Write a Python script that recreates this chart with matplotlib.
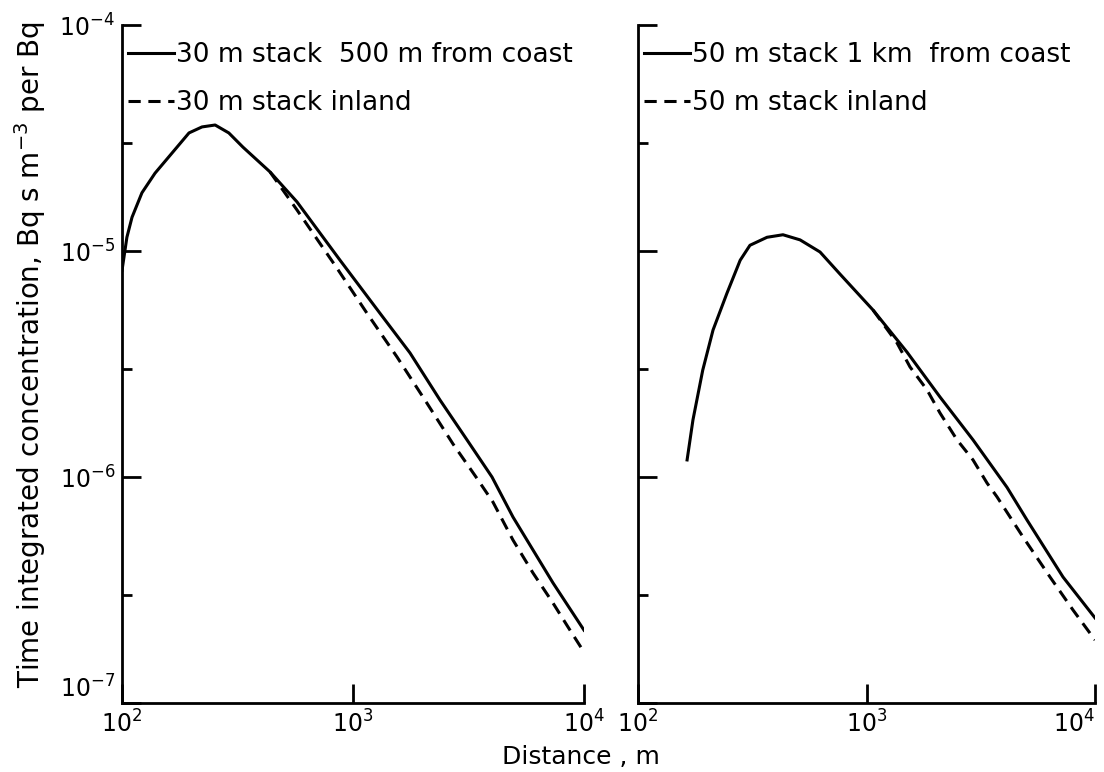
import matplotlib.pyplot as plt
from matplotlib.ticker import FixedLocator, FixedFormatter, NullLocator, NullFormatter

plt.rcParams['font.family'] = ['DejaVu Sans']
plt.rcParams['mathtext.default'] = 'regular'

# 30 m stack (left panel)
dist_30_coast = [100, 102, 105, 110.5, 122, 139, 165, 195, 222, 253, 290, 334, 437, 572,
                 879, 1309, 1765, 2381, 3115, 3997, 4927, 7340, 10000]
conc_30_coast = [8.2e-6, 9.4e-6, 1.15e-5, 1.41e-5, 1.81e-5, 2.21e-5, 2.72e-5, 3.33e-5,
                 3.54e-5, 3.61e-5, 3.33e-5, 2.88e-5, 2.24e-5, 1.65e-5, 9.1e-6, 5.3e-6,
                 3.54e-6, 2.19e-6, 1.46e-6, 1.0e-6, 6.65e-7, 3.4e-7, 2.1e-7]
dist_30_inland = [437, 572, 852, 1150, 1550, 2091, 2710, 3408, 4037, 4927, 6016, 7340, 8524, 10000]
conc_30_inland = [2.24e-5, 1.52e-5, 8.4e-6, 5.3e-6, 3.4e-6, 2.12e-6, 1.4e-6, 1.0e-6,
                  7.74e-7, 5.26e-7, 3.76e-7, 2.77e-7, 2.17e-7, 1.68e-7]

# 50 m stack (right panel)
dist_50_coast = [164, 174, 192, 213, 245, 280, 309, 367, 431, 512, 626, 766, 1068, 1504,
                 2097, 2925, 4120, 5041, 7244, 10000]
conc_50_coast = [1.19e-6, 1.79e-6, 2.97e-6, 4.47e-6, 6.5e-6, 9.1e-6, 1.06e-5, 1.15e-5,
                 1.18e-5, 1.12e-5, 9.9e-6, 7.9e-6, 5.48e-6, 3.57e-6, 2.26e-6, 1.46e-6,
                 9.0e-7, 6.45e-7, 3.61e-7, 2.38e-7]
dist_50_inland = [1068, 1360, 1550, 1840, 2097, 2490, 2925, 3370, 3725, 4840, 6355, 8010, 10000]
conc_50_inland = [5.48e-6, 3.92e-6, 3.07e-6, 2.43e-6, 1.92e-6, 1.46e-6, 1.19e-6, 9.4e-7,
                  8.17e-7, 5.43e-7, 3.61e-7, 2.58e-7, 1.9e-7]

labels_left = ['30 m stack  500 m from coast', '30 m stack inland']
labels_right = ['50 m stack 1 km  from coast', '50 m stack inland']

xticks = [1e2, 1e3, 1e4]
xtick_labels = ['10$^2$', '10$^3$', '10$^4$']
yticks = [1e-7, 1e-6, 1e-5, 1e-4]
ytick_labels = ['10$^{-7}$', '10$^{-6}$', '10$^{-5}$', '10$^{-4}$']
yminor = [3e-7, 3e-6, 3e-5]

W, H = 1104, 772
fig = plt.figure(figsize=(W / 100, H / 100), dpi=100)
ax1 = fig.add_axes([122 / W, 1 - 703 / H, 462 / W, 678 / H])
ax2 = fig.add_axes([638 / W, 1 - 703 / H, 457 / W, 678 / H])

lw = 2.2
dash = (4, 2.5)


def style_axis(ax, show_ylabels):
    ax.set_xscale('log')
    ax.set_yscale('log')
    ax.set_xlim(1e2, 1e4)
    ax.set_ylim(1e-7, 1e-4)
    for s in ['top', 'right']:
        ax.spines[s].set_visible(False)
    for s in ['left', 'bottom']:
        ax.spines[s].set_linewidth(2)
    ax.xaxis.set_major_locator(FixedLocator(xticks))
    ax.xaxis.set_major_formatter(FixedFormatter(xtick_labels))
    ax.xaxis.set_minor_locator(NullLocator())
    ax.yaxis.set_major_locator(FixedLocator(yticks))
    ax.yaxis.set_minor_locator(FixedLocator(yminor))
    ax.yaxis.set_minor_formatter(NullFormatter())
    if show_ylabels:
        ax.yaxis.set_major_formatter(FixedFormatter(ytick_labels))
    else:
        ax.yaxis.set_major_formatter(NullFormatter())
    ax.tick_params(axis='both', which='major', direction='in', length=14, width=2,
                   labelsize=17, pad=5)
    ax.tick_params(axis='y', which='minor', direction='in', length=7, width=2)


style_axis(ax1, True)
ax1.plot(dist_30_coast, conc_30_coast, color='black', lw=lw, label=labels_left[0])
ax1.plot(dist_30_inland, conc_30_inland, color='black', lw=lw, dashes=dash, label=labels_left[1])

style_axis(ax2, False)
ax2.plot(dist_50_coast, conc_50_coast, color='black', lw=lw, label=labels_right[0])
ax2.plot(dist_50_inland, conc_50_inland, color='black', lw=lw, dashes=dash, label=labels_right[1])

# lowest y label sits above the corner, last right x label kept inside the figure
ax1.yaxis.get_major_ticks()[0].label1.set_va('bottom')
ax2.xaxis.get_major_ticks()[2].label1.set_ha('right')

for ax, w, off in [(ax1, 462, 6), (ax2, 457, 6)]:
    ax.legend(loc='upper left', bbox_to_anchor=(off / w, 1 - 17 / 678), frameon=False,
              fontsize=19, handlelength=1.75, handletextpad=0.05, labelspacing=0.85,
              borderpad=0, borderaxespad=0)

fig.text(30 / W, 1 - 355 / H, 'Time integrated concentration, Bq s m$^{-3}$ per Bq',
         rotation=90, ha='center', va='center', fontsize=20)
fig.text(581 / W, 1 - 757 / H, 'Distance , m', ha='center', va='center', fontsize=18)

fig.savefig('out.png', dpi=100)
